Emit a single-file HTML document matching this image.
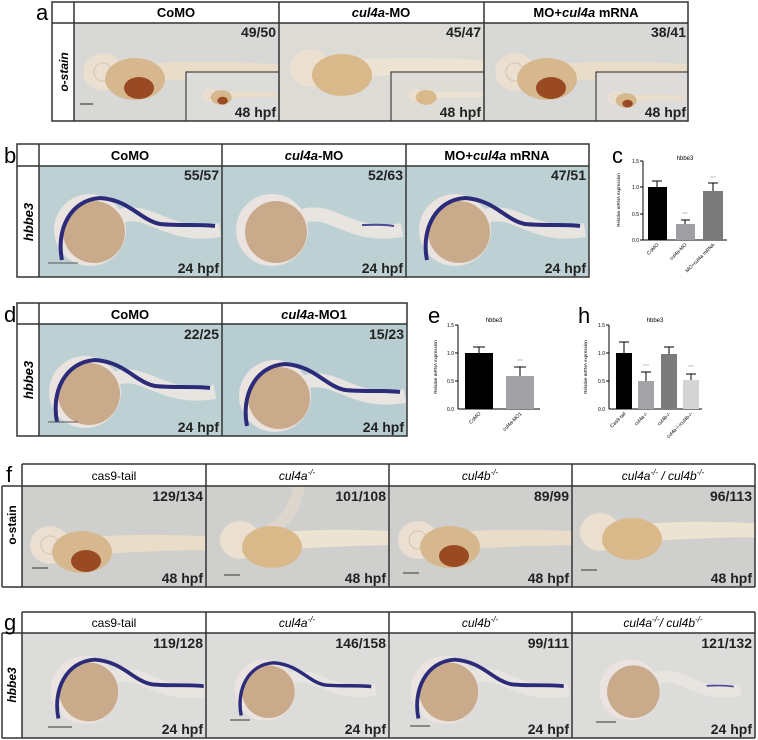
<!DOCTYPE html>
<html><head><meta charset="utf-8"><style>
html,body{margin:0;padding:0;background:#fff;}
svg{display:block;}
text{font-family:"Liberation Sans",Arial,sans-serif;}
.h{font-size:13px;font-weight:bold;text-anchor:middle;}
.n{font-size:14px;font-weight:bold;text-anchor:end;fill:#222;}
.L{font-size:22px;}
.ax{font-size:5px;}
</style></head><body>
<svg width="758" height="740" viewBox="0 0 758 740" xmlns="http://www.w3.org/2000/svg">
<defs>
<g id="ost">
  <path d="M40,-8 C90,-12 150,-10 200,-6 L200,6 C150,4 90,6 40,10 Z" fill="#e9ddc9"/>
  <ellipse cx="0" cy="0" rx="20" ry="19" fill="#eadfd0"/>
  <ellipse cx="0" cy="0" rx="9" ry="9" fill="none" stroke="#d5c4b0"/>
  <ellipse cx="32" cy="7" rx="30" ry="21" fill="#d7b88e"/>
  <ellipse cx="36" cy="16" rx="15" ry="11" fill="#9a4a22"/>
</g>
<g id="ostp">
  <path d="M40,-8 C90,-12 150,-10 200,-6 L200,6 C150,4 90,6 40,10 Z" fill="#ece3d2"/>
  <ellipse cx="0" cy="0" rx="20" ry="19" fill="#ebe0d0"/>
  <ellipse cx="32" cy="7" rx="30" ry="21" fill="#d9b98a"/>
</g>
<g id="hb">
  <path d="M20,-10 C60,-30 70,10 130,0" fill="none" stroke="#e8e4e0" stroke-width="14"/>
  <circle cx="0" cy="0" r="36" fill="#eae3df"/>
  <circle cx="4" cy="2" r="31" fill="#c9ab8c"/>
  <path d="M-28,30 C-34,0 -20,-30 10,-32 C40,-30 50,-10 70,-6 C90,-4 110,-6 125,-4" fill="none" stroke="#2b2b7a" stroke-width="4"/>
</g>
<g id="hbw">
  <path d="M20,-10 C60,-30 70,10 130,0" fill="none" stroke="#e8e4e0" stroke-width="14"/>
  <circle cx="0" cy="0" r="36" fill="#eae3df"/>
  <circle cx="4" cy="2" r="31" fill="#c9ab8c"/>
  <path d="M90,-5 C100,-5 110,-6 122,-4" fill="none" stroke="#4a4a9a" stroke-width="2"/>
</g>
<clipPath id="ca1"><rect x="74" y="23" width="205" height="98"/></clipPath>
<clipPath id="ca2"><rect x="279" y="23" width="205" height="98"/></clipPath>
<clipPath id="ca3"><rect x="484" y="23" width="204" height="98"/></clipPath>
<clipPath id="ci1"><rect x="186" y="72" width="93" height="49"/></clipPath>
<clipPath id="ci2"><rect x="391" y="72" width="93" height="49"/></clipPath>
<clipPath id="ci3"><rect x="596" y="72" width="92" height="49"/></clipPath>
<clipPath id="cb1"><rect x="39" y="166" width="183" height="111"/></clipPath>
<clipPath id="cb2"><rect x="222" y="166" width="184" height="111"/></clipPath>
<clipPath id="cb3"><rect x="406" y="166" width="183" height="111"/></clipPath>
<clipPath id="cd1"><rect x="39" y="324" width="183" height="112"/></clipPath>
<clipPath id="cd2"><rect x="222" y="324" width="185" height="112"/></clipPath>
<clipPath id="cf1"><rect x="22" y="486" width="184" height="101"/></clipPath>
<clipPath id="cf2"><rect x="206" y="486" width="183" height="101"/></clipPath>
<clipPath id="cf3"><rect x="389" y="486" width="183" height="101"/></clipPath>
<clipPath id="cf4"><rect x="572" y="486" width="183" height="101"/></clipPath>
<clipPath id="cg1"><rect x="22" y="633" width="184" height="105"/></clipPath>
<clipPath id="cg2"><rect x="206" y="633" width="183" height="105"/></clipPath>
<clipPath id="cg3"><rect x="389" y="633" width="183" height="105"/></clipPath>
<clipPath id="cg4"><rect x="572" y="633" width="183" height="105"/></clipPath>
</defs>

<!-- Panel a -->
<text x="36" y="20" class="L">a</text>
<rect x="74" y="23" width="614" height="98" fill="#d8d8d6"/>
<rect x="279" y="23" width="205" height="98" fill="#dcdbd6"/>
<g clip-path="url(#ca1)"><g transform="translate(103,72)"><use href="#ost"/></g></g>
<g clip-path="url(#ca2)"><g transform="translate(310,68)"><use href="#ostp"/></g></g>
<g clip-path="url(#ca3)"><g transform="translate(515,72)"><use href="#ost"/></g></g>
<rect x="186" y="72" width="93" height="49" fill="#dcdcda" stroke="#222"/>
<rect x="391" y="72" width="93" height="49" fill="#dedcd6" stroke="#222"/>
<rect x="596" y="72" width="92" height="49" fill="#dedcda" stroke="#222"/>
<g clip-path="url(#ci1)"><g transform="translate(210,95) scale(0.35)"><use href="#ost"/></g></g>
<g clip-path="url(#ci2)"><g transform="translate(415,95) scale(0.35)"><use href="#ostp"/></g></g>
<g clip-path="url(#ci3)"><g transform="translate(615,98) scale(0.35)"><use href="#ost"/></g></g>
<rect x="52" y="2" width="636" height="119" fill="none" stroke="#333" stroke-width="1.5"/>
<line x1="52" y1="23" x2="688" y2="23" stroke="#333" stroke-width="1.5"/>
<line x1="74" y1="2" x2="74" y2="121" stroke="#333" stroke-width="1.5"/>
<line x1="279" y1="2" x2="279" y2="121" stroke="#333" stroke-width="1.5"/>
<line x1="484" y1="2" x2="484" y2="121" stroke="#333" stroke-width="1.5"/>
<text x="176" y="17" class="h">CoMO</text>
<text x="381" y="17" class="h"><tspan font-style="italic">cul4a</tspan>-MO</text>
<text x="586" y="17" class="h">MO+<tspan font-style="italic">cul4a</tspan> mRNA</text>
<text x="276" y="37" class="n">49/50</text>
<text x="481" y="37" class="n">45/47</text>
<text x="686" y="37" class="n">38/41</text>
<text x="276" y="117" class="n">48 hpf</text>
<text x="481" y="117" class="n">48 hpf</text>
<text x="686" y="117" class="n">48 hpf</text>
<line x1="80" y1="104" x2="93" y2="104" stroke="#222"/>
<text transform="translate(68,72) rotate(-90)" text-anchor="middle" font-size="12" font-weight="bold" font-style="italic">o-stain</text>

<!-- Panel b -->
<text x="4" y="163" class="L">b</text>
<rect x="39" y="166" width="550" height="111" fill="#bdd1d4"/>
<g clip-path="url(#cb1)"><g transform="translate(90,230)"><use href="#hb"/></g></g>
<g clip-path="url(#cb2)"><g transform="translate(272,230)"><use href="#hbw"/></g></g>
<g clip-path="url(#cb3)"><g transform="translate(455,230)"><use href="#hb"/></g></g>
<rect x="17" y="144" width="572" height="133" fill="none" stroke="#333" stroke-width="1.5"/>
<line x1="17" y1="166" x2="589" y2="166" stroke="#333" stroke-width="1.5"/>
<line x1="39" y1="144" x2="39" y2="277" stroke="#333" stroke-width="1.5"/>
<line x1="222" y1="144" x2="222" y2="277" stroke="#333" stroke-width="1.5"/>
<line x1="406" y1="144" x2="406" y2="277" stroke="#333" stroke-width="1.5"/>
<text x="130" y="160" class="h">CoMO</text>
<text x="314" y="160" class="h"><tspan font-style="italic">cul4a</tspan>-MO</text>
<text x="497" y="160" class="h">MO+<tspan font-style="italic">cul4a</tspan> mRNA</text>
<text x="219" y="180" class="n">55/57</text>
<text x="403" y="180" class="n">52/63</text>
<text x="586" y="180" class="n">47/51</text>
<text x="219" y="273" class="n">24 hpf</text>
<text x="403" y="273" class="n">24 hpf</text>
<text x="586" y="273" class="n">24 hpf</text>
<line x1="48" y1="263" x2="78" y2="263" stroke="#555"/>
<text transform="translate(33,222) rotate(-90)" text-anchor="middle" font-size="13" font-weight="bold" font-style="italic">hbbe3</text>

<!-- Panel c -->
<text x="612" y="163" class="L">c</text>
<text x="685" y="160" font-size="6" text-anchor="middle">hbbe3</text>
<g stroke="#000" stroke-width="1">
<line x1="643" y1="161" x2="643" y2="240"/><line x1="643" y1="240" x2="727" y2="240"/>
<line x1="640" y1="161" x2="643" y2="161"/><line x1="640" y1="187" x2="643" y2="187"/><line x1="640" y1="214" x2="643" y2="214"/><line x1="640" y1="240" x2="643" y2="240"/>
</g>
<g class="ax" text-anchor="end"><text x="639" y="163">1.5</text><text x="639" y="189">1.0</text><text x="639" y="216">0.5</text><text x="639" y="242">0.0</text></g>
<text transform="translate(620,200) rotate(-90)" font-size="4.5" text-anchor="middle">Relative mRNA expression</text>
<rect x="648" y="187" width="19" height="53" fill="#000"/>
<rect x="676" y="224" width="19" height="16" fill="#a0a0a4"/>
<rect x="703" y="191" width="20" height="49" fill="#7a7a7a"/>
<g stroke="#000"><line x1="657" y1="187" x2="657" y2="181"/><line x1="652" y1="181" x2="662" y2="181"/>
<line x1="685" y1="224" x2="685" y2="220"/><line x1="681" y1="220" x2="690" y2="220"/>
<line x1="713" y1="191" x2="713" y2="183"/><line x1="708" y1="183" x2="718" y2="183"/></g>
<text x="685" y="216" font-size="5" fill="#aaa" text-anchor="middle">***</text>
<text x="713" y="180" font-size="5" fill="#aaa" text-anchor="middle">***</text>
<g font-size="5" text-anchor="end"><text transform="translate(659,245) rotate(-45)">CoMO</text><text transform="translate(687,245) rotate(-45)">cul4a-MO</text><text transform="translate(715,245) rotate(-45)">MO+cul4a mRNA</text></g>

<!-- Panel d -->
<text x="4" y="322" class="L">d</text>
<rect x="39" y="324" width="368" height="112" fill="#bdd1d4"/>
<rect x="222" y="324" width="185" height="112" fill="#b8cdd2"/>
<g clip-path="url(#cd1)"><g transform="translate(85,392)"><use href="#hb"/></g></g>
<g clip-path="url(#cd2)"><g transform="translate(275,396)"><use href="#hb"/></g></g>
<rect x="17" y="303" width="390" height="133" fill="none" stroke="#333" stroke-width="1.5"/>
<line x1="17" y1="324" x2="407" y2="324" stroke="#333" stroke-width="1.5"/>
<line x1="39" y1="303" x2="39" y2="436" stroke="#333" stroke-width="1.5"/>
<line x1="222" y1="303" x2="222" y2="436" stroke="#333" stroke-width="1.5"/>
<text x="130" y="319" class="h">CoMO</text>
<text x="314" y="319" class="h"><tspan font-style="italic">cul4a</tspan>-MO1</text>
<text x="219" y="339" class="n">22/25</text>
<text x="404" y="339" class="n">15/23</text>
<text x="219" y="432" class="n">24 hpf</text>
<text x="404" y="432" class="n">24 hpf</text>
<line x1="48" y1="422" x2="78" y2="422" stroke="#555"/>
<text transform="translate(33,380) rotate(-90)" text-anchor="middle" font-size="13" font-weight="bold" font-style="italic">hbbe3</text>

<!-- Panel e -->
<text x="428" y="323" class="L">e</text>
<text x="494" y="322" font-size="6" text-anchor="middle">hbbe3</text>
<g stroke="#000"><line x1="458" y1="325" x2="458" y2="409"/><line x1="458" y1="409" x2="540" y2="409"/>
<line x1="455" y1="325" x2="458" y2="325"/><line x1="455" y1="353" x2="458" y2="353"/><line x1="455" y1="381" x2="458" y2="381"/></g>
<g class="ax" text-anchor="end"><text x="454" y="327">1.5</text><text x="454" y="355">1.0</text><text x="454" y="383">0.5</text><text x="454" y="411">0.0</text></g>
<text transform="translate(437,367) rotate(-90)" font-size="4.5" text-anchor="middle">Relative mRNA expression</text>
<rect x="465" y="353" width="28" height="56" fill="#000"/>
<rect x="506" y="376" width="28" height="33" fill="#a2a2a6"/>
<g stroke="#000"><line x1="479" y1="353" x2="479" y2="347"/><line x1="473" y1="347" x2="485" y2="347"/>
<line x1="520" y1="376" x2="520" y2="367"/><line x1="514" y1="367" x2="526" y2="367"/></g>
<text x="520" y="363" font-size="5" fill="#aaa" text-anchor="middle">***</text>
<g font-size="5" text-anchor="end"><text transform="translate(481,414) rotate(-45)">CoMO</text><text transform="translate(522,414) rotate(-45)">cul4a-MO1</text></g>

<!-- Panel h -->
<text x="578" y="323" class="L">h</text>
<text x="655" y="322" font-size="6" text-anchor="middle">hbbe3</text>
<g stroke="#000"><line x1="609" y1="325" x2="609" y2="409"/><line x1="609" y1="409" x2="702" y2="409"/>
<line x1="606" y1="325" x2="609" y2="325"/><line x1="606" y1="353" x2="609" y2="353"/><line x1="606" y1="381" x2="609" y2="381"/></g>
<g class="ax" text-anchor="end"><text x="605" y="327">1.5</text><text x="605" y="355">1.0</text><text x="605" y="383">0.5</text><text x="605" y="411">0.0</text></g>
<text transform="translate(587,367) rotate(-90)" font-size="4.5" text-anchor="middle">Relative mRNA expression</text>
<rect x="616" y="353" width="16" height="56" fill="#000"/>
<rect x="638" y="381" width="16" height="28" fill="#a4a4a8"/>
<rect x="661" y="354" width="16" height="55" fill="#7b7b7b"/>
<rect x="683" y="380" width="16" height="29" fill="#d4d4d4"/>
<g stroke="#000"><line x1="624" y1="353" x2="624" y2="342"/><line x1="619" y1="342" x2="629" y2="342"/>
<line x1="646" y1="381" x2="646" y2="372"/><line x1="641" y1="372" x2="651" y2="372"/>
<line x1="669" y1="354" x2="669" y2="347"/><line x1="664" y1="347" x2="674" y2="347"/>
<line x1="691" y1="380" x2="691" y2="374"/><line x1="686" y1="374" x2="696" y2="374"/></g>
<text x="646" y="368" font-size="5" fill="#aaa" text-anchor="middle">***</text>
<text x="691" y="369" font-size="5" fill="#aaa" text-anchor="middle">***</text>
<g font-size="5" text-anchor="end"><text transform="translate(626,414) rotate(-45)">Cas9-tail</text><text transform="translate(648,414) rotate(-45)">cul4a-/-</text><text transform="translate(671,414) rotate(-45)">cul4b-/-</text><text transform="translate(693,414) rotate(-45)">cul4a-/-/cul4b-/-</text></g>

<!-- Panel f -->
<rect x="22" y="486" width="733" height="101" fill="#cfcfcd"/>
<g clip-path="url(#cf1)"><g transform="translate(50,545)"><use href="#ost"/></g></g>
<g clip-path="url(#cf2)"><g transform="translate(240,540)"><path d="M30,-10 C50,-20 58,-40 60,-60" stroke="#ddd6cc" stroke-width="12" fill="none"/><use href="#ostp"/></g></g>
<g clip-path="url(#cf3)"><g transform="translate(418,540)"><use href="#ost"/></g></g>
<g clip-path="url(#cf4)"><g transform="translate(600,532)"><use href="#ostp"/></g></g>
<line x1="22" y1="464" x2="755" y2="464" stroke="#333" stroke-width="1.5"/>
<line x1="755" y1="464" x2="755" y2="587" stroke="#333" stroke-width="1.5"/>
<line x1="2" y1="587" x2="755" y2="587" stroke="#333" stroke-width="1.5"/>
<line x1="2" y1="486" x2="2" y2="587" stroke="#333" stroke-width="1.5"/>
<line x1="2" y1="486" x2="755" y2="486" stroke="#333" stroke-width="1.5"/>
<line x1="22" y1="464" x2="22" y2="587" stroke="#333" stroke-width="1.5"/>
<line x1="206" y1="464" x2="206" y2="587" stroke="#333" stroke-width="1.5"/>
<line x1="389" y1="464" x2="389" y2="587" stroke="#333" stroke-width="1.5"/>
<line x1="572" y1="464" x2="572" y2="587" stroke="#333" stroke-width="1.5"/>
<text x="6" y="482" class="L">f</text>
<g font-size="12" text-anchor="middle">
<text x="114" y="480">cas9-tail</text>
<text x="297" y="480" font-style="italic">cul4a<tspan font-size="8" dy="-5">-/-</tspan></text>
<text x="480" y="480" font-style="italic">cul4b<tspan font-size="8" dy="-5">-/-</tspan></text>
<text x="663" y="480" font-style="italic">cul4a<tspan font-size="8" dy="-5">-/-</tspan><tspan dy="5"> / cul4b</tspan><tspan font-size="8" dy="-5">-/-</tspan></text>
</g>
<text x="203" y="501" class="n">129/134</text>
<text x="386" y="501" class="n">101/108</text>
<text x="569" y="501" class="n">89/99</text>
<text x="752" y="501" class="n">96/113</text>
<text x="203" y="583" class="n">48 hpf</text>
<text x="386" y="583" class="n">48 hpf</text>
<text x="569" y="583" class="n">48 hpf</text>
<text x="752" y="583" class="n">48 hpf</text>
<g stroke="#333"><line x1="32" y1="568" x2="48" y2="568"/><line x1="224" y1="575" x2="240" y2="575"/><line x1="403" y1="573" x2="419" y2="573"/><line x1="581" y1="570" x2="597" y2="570"/></g>
<text transform="translate(16,525) rotate(-90)" text-anchor="middle" font-size="12" font-weight="bold">o-stain</text>

<!-- Panel g -->
<rect x="22" y="633" width="733" height="105" fill="#dcdcdb"/>
<g clip-path="url(#cg1)"><g transform="translate(85,690) scale(0.95)"><use href="#hb"/></g></g>
<g clip-path="url(#cg2)"><g transform="translate(265,690) scale(0.85)"><use href="#hb"/></g></g>
<g clip-path="url(#cg3)"><g transform="translate(445,690) scale(0.95)"><use href="#hb"/></g></g>
<g clip-path="url(#cg4)"><g transform="translate(630,690) scale(0.85)"><use href="#hbw"/></g></g>
<line x1="22" y1="612" x2="755" y2="612" stroke="#333" stroke-width="1.5"/>
<line x1="755" y1="612" x2="755" y2="738" stroke="#333" stroke-width="1.5"/>
<line x1="2" y1="738" x2="755" y2="738" stroke="#333" stroke-width="1.5"/>
<line x1="2" y1="633" x2="2" y2="738" stroke="#333" stroke-width="1.5"/>
<line x1="2" y1="633" x2="755" y2="633" stroke="#333" stroke-width="1.5"/>
<line x1="22" y1="612" x2="22" y2="738" stroke="#333" stroke-width="1.5"/>
<line x1="206" y1="612" x2="206" y2="738" stroke="#333" stroke-width="1.5"/>
<line x1="389" y1="612" x2="389" y2="738" stroke="#333" stroke-width="1.5"/>
<line x1="572" y1="612" x2="572" y2="738" stroke="#333" stroke-width="1.5"/>
<text x="4" y="630" class="L">g</text>
<g font-size="12" text-anchor="middle">
<text x="114" y="627">cas9-tail</text>
<text x="297" y="627" font-style="italic">cul4a<tspan font-size="8" dy="-5">-/-</tspan></text>
<text x="480" y="627" font-style="italic">cul4b<tspan font-size="8" dy="-5">-/-</tspan></text>
<text x="663" y="627" font-style="italic">cul4a<tspan font-size="8" dy="-5">-/-</tspan><tspan dy="5">/ cul4b</tspan><tspan font-size="8" dy="-5">-/-</tspan></text>
</g>
<text x="203" y="648" class="n">119/128</text>
<text x="386" y="648" class="n">146/158</text>
<text x="569" y="648" class="n">99/111</text>
<text x="752" y="648" class="n">121/132</text>
<text x="203" y="734" class="n">24 hpf</text>
<text x="386" y="734" class="n">24 hpf</text>
<text x="569" y="734" class="n">24 hpf</text>
<text x="752" y="734" class="n">24 hpf</text>
<g stroke="#333"><line x1="48" y1="727" x2="72" y2="727"/><line x1="230" y1="720" x2="250" y2="720"/><line x1="410" y1="726" x2="430" y2="726"/><line x1="596" y1="722" x2="616" y2="722"/></g>
<text transform="translate(16,685) rotate(-90)" text-anchor="middle" font-size="12" font-weight="bold" font-style="italic">hbbe3</text>
</svg>
</body></html>
